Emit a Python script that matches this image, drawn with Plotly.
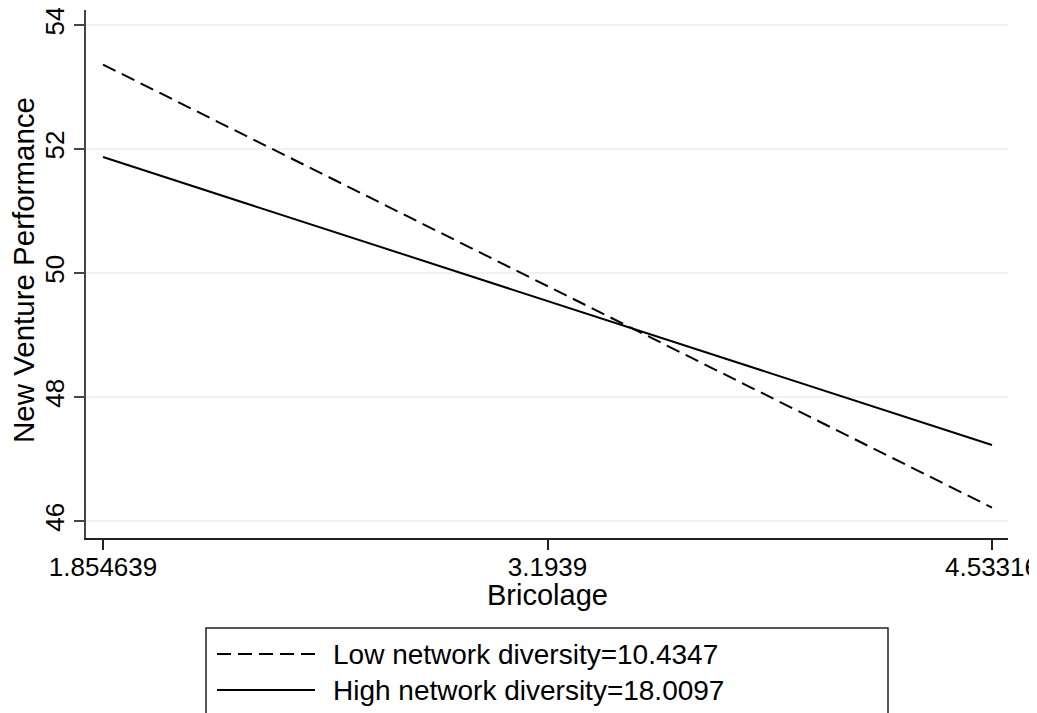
import plotly.graph_objects as go

# Data
bricolage = [1.854639, 4.53316]
low_div = [53.36, 46.22]
high_div = [51.87, 47.23]
series_names = ["Low network diversity=10.4347", "High network diversity=18.0097"]
x_ticks = [1.854639, 3.1939, 4.53316]
x_tick_labels = ["1.854639", "3.1939", "4.53316"]
y_ticks = [46, 48, 50, 52, 54]
x_title = "Bricolage"
y_title = "New Venture Performance"

# page has an 8px body margin, so the figure is laid out in window coords minus 8
OFF = 8
W, H = 1037 - OFF, 713 - OFF
L, T = 86 - OFF, 10 - OFF
R = W - (1008 - OFF)
B = H - (538 - OFF)
pw, ph = W - L - R, H - T - B

def px(xw):
    return (xw - OFF - L) / pw

def py(yw):
    return (H - B - (yw - OFF)) / ph

FONT = "Liberation Sans, Arial, Helvetica, sans-serif"
grid = "rgb(234,242,243)"
DASH = "14px,7px"

fig = go.Figure()
fig.add_trace(go.Scatter(x=bricolage, y=low_div, mode="lines", name=series_names[0],
                         line=dict(color="black", width=2, dash=DASH), showlegend=False))
fig.add_trace(go.Scatter(x=bricolage, y=high_div, mode="lines", name=series_names[1],
                         line=dict(color="black", width=2), showlegend=False))

# legend box and entries (manual, Stata style)
fig.add_shape(type="rect", xref="paper", yref="paper", x0=px(206), x1=px(888), y0=py(780), y1=py(628),
              line=dict(color="#222", width=1.5), fillcolor="white", layer="above")
rows = [654, 690]
dashes = [DASH, "solid"]
for name, yy, d in zip(series_names, rows, dashes):
    fig.add_shape(type="line", xref="paper", yref="paper", x0=px(217), x1=px(315), y0=py(yy), y1=py(yy),
                  line=dict(color="black", width=2, dash=d))
    fig.add_annotation(xref="paper", yref="paper", x=px(331), y=py(yy), text=name, showarrow=False,
                       xanchor="left", yanchor="middle", font=dict(family=FONT, size=28, color="black"))

# axis titles
fig.add_annotation(xref="paper", yref="paper", x=px(547), y=py(595), text=x_title, showarrow=False,
                   xanchor="center", yanchor="middle", font=dict(family=FONT, size=29, color="black"))
fig.add_annotation(xref="paper", yref="paper", x=px(23), y=py(270), text=y_title, showarrow=False,
                   textangle=-90, xanchor="center", yanchor="middle",
                   font=dict(family=FONT, size=29.5, color="black"))

fig.update_layout(
    width=W, height=H,
    margin=dict(l=L, r=R, t=T, b=B, pad=0),
    paper_bgcolor="white", plot_bgcolor="white",
    font=dict(family=FONT, color="black"),
    xaxis=dict(
        range=[1.8034, 4.5814], tickmode="array", tickvals=x_ticks, ticktext=x_tick_labels,
        showgrid=False, zeroline=False, showline=True, linecolor="#222", linewidth=1.5,
        ticks="outside", ticklen=10, tickwidth=1.5, tickcolor="#222", automargin=False,
        ticklabeloverflow="allow", ticklabelstandoff=-5,
        tickfont=dict(size=26, family=FONT),
    ),
    yaxis=dict(
        range=[45.73, 54.24], tickmode="array", tickvals=y_ticks,
        showgrid=True, gridcolor=grid, gridwidth=2, zeroline=False,
        showline=True, linecolor="#444", linewidth=1.5, automargin=False,
        ticks="outside", ticklen=10, tickwidth=1.5, tickcolor="#444", tickangle=-90,
        ticklabeloverflow="allow",
        tickfont=dict(size=26, family=FONT),
    ),
)

fig.write_html("out.html")
